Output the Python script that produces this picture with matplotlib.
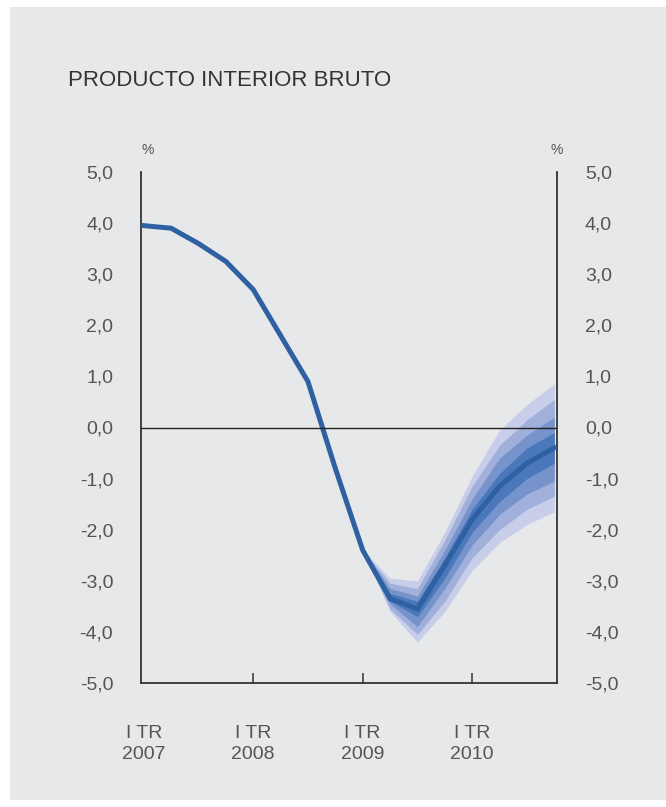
import matplotlib.pyplot as plt
from matplotlib.patches import Rectangle

plt.rcParams['font.family'] = ['Liberation Sans', 'DejaVu Sans']

# quarters since I TR 2007
quarters = list(range(16))
gdp = [3.95, 3.9, 3.6, 3.25, 2.7, 1.8, 0.9, -0.8,
       -2.4, -3.35, -3.55, -2.7, -1.8, -1.15, -0.7, -0.4]

# projection fan, 2009 Q1 onwards; bands listed from innermost to outermost
fan_quarters = list(range(8, 16))
fan_upper = [
    [-2.4, -3.25, -3.4, -2.55, -1.6, -0.9, -0.4, -0.1],
    [-2.4, -3.15, -3.3, -2.4, -1.4, -0.6, -0.15, 0.2],
    [-2.4, -3.05, -3.15, -2.2, -1.15, -0.35, 0.15, 0.55],
    [-2.4, -2.95, -3.0, -2.05, -0.95, -0.05, 0.45, 0.85],
]
fan_lower = [
    [-2.4, -3.4, -3.7, -2.95, -2.05, -1.45, -1.0, -0.7],
    [-2.4, -3.45, -3.9, -3.15, -2.3, -1.7, -1.3, -1.05],
    [-2.4, -3.55, -4.05, -3.4, -2.55, -2.0, -1.6, -1.35],
    [-2.4, -3.6, -4.2, -3.6, -2.8, -2.25, -1.9, -1.65],
]
fan_colors = ['#4a78bb', '#7793cc', '#a0b0db', '#c8cee9']

yticks = [5, 4, 3, 2, 1, 0, -1, -2, -3, -4, -5]
xtick_pos = [0, 4, 8, 12]
xtick_labels = ['I TR\n2007', 'I TR\n2008', 'I TR\n2009', 'I TR\n2010']

W, H = 666, 807
fig = plt.figure(figsize=(W / 100, H / 100), dpi=100)
fig.patch.set_facecolor('white')
fig.patches.append(Rectangle((10 / W, 7 / H), (W - 10) / W, (800 - 7) / H,
                             transform=fig.transFigure, facecolor='#e6e8ea',
                             edgecolor='none', zorder=-10))

ax = fig.add_axes([141 / W, 124 / H, 416 / W, 511 / H])
ax.set_facecolor('none')

# outermost first so the darker bands sit on top
for k in range(len(fan_upper) - 1, -1, -1):
    ax.fill_between(fan_quarters, fan_lower[k], fan_upper[k],
                    color=fan_colors[k], linewidth=0, zorder=2)

ax.plot(quarters, gdp, color='#2f60a2', linewidth=3.6,
        solid_joinstyle='miter', zorder=3)
ax.axhline(0, color='#222222', linewidth=1.0, zorder=4)

ax.set_xlim(-0.1, 15.1)
ax.set_ylim(-5, 5)

ax.spines['top'].set_visible(False)
for side in ['left', 'right', 'bottom']:
    ax.spines[side].set_color('#333333')
    ax.spines[side].set_linewidth(1.3)

ax.set_yticks(yticks)
ax.set_yticklabels([f'{v:.1f}'.replace('.', ',') for v in yticks])
ax.tick_params(axis='y', length=0, pad=20, labelsize=14,
               labelcolor='#555555', left=True, right=True,
               labelleft=True, labelright=True)
ax.set_xticks(xtick_pos)
ax.set_xticklabels(xtick_labels, linespacing=1.35)
ax.tick_params(axis='x', direction='in', length=7, width=1.1,
               color='#333333', pad=30, labelsize=14, labelcolor='#555555')
# the first quarter sits on the left spine, no tick mark there
ax.xaxis.get_major_ticks()[0].tick1line.set_visible(False)

ax.text(0, 1.03, '%', transform=ax.transAxes, ha='left', va='bottom',
        fontsize=10, color='#555555')
ax.text(1, 1.03, '%', transform=ax.transAxes, ha='center', va='bottom',
        fontsize=10, color='#555555')

fig.text(68 / W, 1 - 80 / H, 'PRODUCTO INTERIOR BRUTO', ha='left',
         va='center', fontsize=16, color='#333333')

fig.savefig('out.png', dpi=100)
